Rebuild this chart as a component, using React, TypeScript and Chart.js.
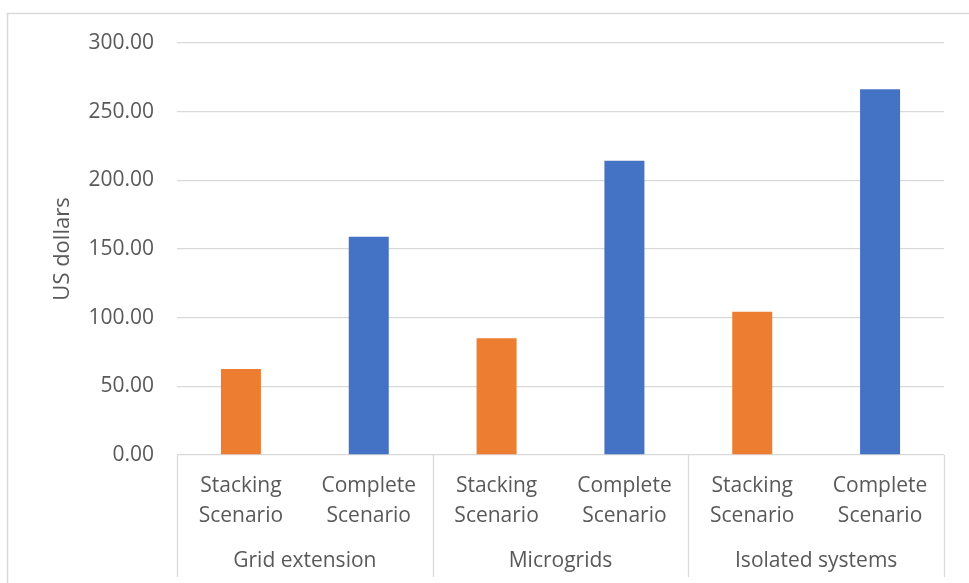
import React, { useEffect, useRef } from "react";
import { Chart, registerables } from "chart.js";

Chart.register(...registerables);

const groups = ["Grid extension", "Microgrids", "Isolated systems"];
const scenarioLines = [
  ["Stacking", "Scenario"],
  ["Complete", "Scenario"],
];
const stackingValues = [62.6, 85.0, 104.3];
const completeValues = [159.0, 214.3, 266.3];
const yTicks = [0, 50, 100, 150, 200, 250, 300];
const yTitle = "US dollars";

const FONT = "'Open Sans', sans-serif";
const TEXT = "#595959";
const GRID = "#d9d9d9";

export default function App() {
  const ref = useRef<HTMLCanvasElement | null>(null);

  useEffect(() => {
    const canvas = ref.current;
    if (!canvas) return;

    const labels: string[][] = [];
    const stackData: (number | null)[] = [];
    const compData: (number | null)[] = [];
    groups.forEach((_, g) => {
      labels.push(scenarioLines[0]);
      labels.push(scenarioLines[1]);
      stackData.push(stackingValues[g], null);
      compData.push(null, completeValues[g]);
    });

    const framePlugin = {
      id: "frame",
      beforeDraw(chart: any) {
        const ctx = chart.ctx;
        ctx.save();
        ctx.strokeStyle = GRID;
        ctx.lineWidth = 1.5;
        ctx.beginPath();
        ctx.moveTo(7.5, chart.height);
        ctx.lineTo(7.5, 13.5);
        ctx.lineTo(chart.width, 13.5);
        ctx.stroke();
        ctx.restore();
      },
      afterDraw(chart: any) {
        const ctx = chart.ctx;
        const xs = chart.scales.x;
        const area = chart.chartArea;
        const n = labels.length;
        const per = 2;
        ctx.save();
        ctx.strokeStyle = GRID;
        ctx.lineWidth = 1.3;
        const half = (xs.getPixelForValue(1) - xs.getPixelForValue(0)) / 2;
        for (let g = 0; g <= groups.length; g++) {
          const idx = Math.min(g * per, n - 1);
          const x = g * per < n ? xs.getPixelForValue(idx) - half : xs.getPixelForValue(n - 1) + half;
          ctx.beginPath();
          ctx.moveTo(Math.round(x) + 0.5, area.bottom);
          ctx.lineTo(Math.round(x) + 0.5, 577);
          ctx.stroke();
        }
        ctx.fillStyle = TEXT;
        ctx.font = `21px ${FONT}`;
        ctx.textAlign = "center";
        ctx.textBaseline = "middle";
        groups.forEach((name, g) => {
          const x = (xs.getPixelForValue(g * per) + xs.getPixelForValue(g * per + 1)) / 2;
          ctx.fillText(name, x, 561);
        });
        ctx.restore();
      },
    };

    const chart = new Chart(canvas, {
      type: "bar",
      data: {
        labels,
        datasets: [
          {
            label: "Stacking Scenario",
            data: stackData,
            backgroundColor: "#ED7D31",
            borderWidth: 0,
            skipNull: true,
            categoryPercentage: 1,
            barPercentage: 0.313,
          } as any,
          {
            label: "Complete Scenario",
            data: compData,
            backgroundColor: "#4472C4",
            borderWidth: 0,
            skipNull: true,
            categoryPercentage: 1,
            barPercentage: 0.313,
          } as any,
        ],
      },
      options: {
        responsive: false,
        animation: false,
        layout: { padding: { left: 0, top: 43, right: 25, bottom: 0 } },
        plugins: {
          legend: { display: false },
          tooltip: { enabled: false },
          title: { display: false },
        },
        scales: {
          x: {
            grid: { display: false, drawTicks: false },
            border: { display: false },
            ticks: {
              color: TEXT,
              font: { family: FONT, size: 21, lineHeight: 1.43 },
              padding: 16,
              maxRotation: 0,
              autoSkip: false,
            },
            afterFit(scale: any) {
              scale.height = 128;
            },
          },
          y: {
            min: 0,
            max: 300,
            afterBuildTicks(scale: any) {
              scale.ticks = yTicks.map((v) => ({ value: v }));
            },
            grid: { color: GRID, lineWidth: 1.3, drawTicks: false },
            border: { display: false },
            ticks: {
              color: TEXT,
              font: { family: FONT, size: 21 },
              padding: 23,
              callback: (v: any) => Number(v).toFixed(2),
            },
            title: {
              display: true,
              text: yTitle,
              color: TEXT,
              font: { family: FONT, size: 22 },
              padding: { top: 50, bottom: 0 },
            },
            afterFit(scale: any) {
              scale.width = 177;
            },
          },
        },
      },
      plugins: [framePlugin],
    });

    return () => chart.destroy();
  }, []);

  return (
    <div style={{ position: "fixed", left: 0, top: 0, width: 969, height: 583, background: "#fff" }}>
      <canvas ref={ref} width={969} height={583} style={{ display: "block" }} />
    </div>
  );
}
